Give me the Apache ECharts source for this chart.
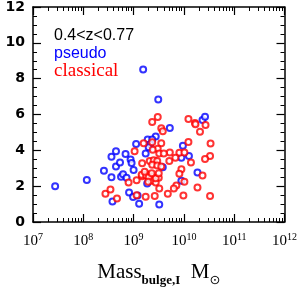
<!DOCTYPE html>
<html><head><meta charset="utf-8">
<script src="https://cdn.jsdelivr.net/npm/echarts@6/dist/echarts.min.js"></script>
<style>html,body{margin:0;padding:0;background:#fff}#c{width:300px;height:292px}</style>
</head><body><div id="c"></div>
<script>
// log10(Mass_bulge) and value for pseudo bulges (blue)
const pseudoLogMass = [7.44,8.07,8.41,8.56,8.56,8.65,8.65,8.73,8.75,8.79,8.84,8.86,8.94,8.96,9.00,8.91,8.58,8.99,9.08,9.11,
  9.05,9.24,9.28,9.27,9.19,9.49,9.72,10.37,10.42,9.44,9.37,9.33,9.30,9.98,10.10,9.95,9.58,10.27,9.95,9.51];
const pseudoY = [1.99,2.35,2.86,2.50,3.64,3.95,3.10,3.32,2.52,2.67,3.79,2.47,3.49,3.30,2.90,1.65,1.14,1.39,1.48,1.02,
  4.35,3.83,4.60,2.15,8.51,6.84,5.24,5.70,5.87,4.77,4.60,4.34,4.17,4.26,3.69,3.58,3.06,2.76,2.30,0.97];
// classical bulges (red)
const classicalLogMass = [8.44,8.54,8.67,8.90,9.02,9.06,9.06,9.17,9.17,9.24,9.26,9.48,9.37,9.55,9.58,10.09,10.22,10.23,10.43,10.32,
  10.09,10.53,9.72,9.91,10.01,9.83,10.14,10.52,10.42,9.95,9.91,10.37,10.01,9.85,9.80,9.99,10.27,10.52,9.55,9.20,
  9.37,9.48,9.51,9.60,9.32,9.40,9.47,9.71,9.37,9.47,9.55,9.37,9.50,9.36,9.44,9.51,9.68,9.42,9.16,9.25,
  9.30,9.44,9.29,9.22,9.36,9.50,9.38];
const classicalY = [1.58,1.82,1.31,2.21,3.95,2.33,1.50,3.28,2.55,1.41,2.67,5.86,5.58,5.23,5.06,5.75,5.53,5.46,5.41,5.04,
  4.46,4.38,3.88,3.87,3.88,3.58,3.32,3.69,3.52,2.95,2.69,2.60,2.25,2.04,1.87,1.48,1.92,1.45,4.39,4.39,
  4.45,4.09,3.83,3.83,3.41,3.44,3.41,3.40,3.20,3.15,3.10,2.55,2.47,2.30,2.21,1.87,1.58,1.45,2.64,2.60,
  2.50,2.44,2.25,2.81,2.72,2.72,4.03];
const xMajorExps = [7,8,9,10,11,12];
const yTicks = [0,2,4,6,8,10,12];
const annotation = '0.4<z<0.77';
const legendNames = ['pseudo','classical'];

const toPts = (lm, y) => lm.map((v,i)=>[Math.pow(10,v), y[i]]);
const minorVals = [];
for (let k=7;k<12;k++) for (let m=2;m<=9;m++) minorVals.push(m*Math.pow(10,k));

const majorLab = v => { const e = Math.round(Math.log10(v)); return '{b|10}{s|'+e+'}'; };
const labRich = { b:{fontFamily:'Liberation Serif',fontSize:15,color:'#000',verticalAlign:'bottom',lineHeight:17},
                  s:{fontFamily:'Liberation Serif',fontSize:10,color:'#000',verticalAlign:'top',lineHeight:17} };

const xBase = {type:'log',logBase:10,min:1e7,max:1e12,gridIndex:0,splitLine:{show:false}};
const chart = echarts.init(document.getElementById('c'),null,{renderer:'canvas'});
chart.setOption({
  animation:false,
  backgroundColor:'#fff',
  grid:{left:33,right:13,top:5,bottom:52,containLabel:false},
  xAxis:[
    Object.assign({},xBase,{position:'bottom',
      axisLine:{show:true,lineStyle:{color:'#000',width:1.5}},
      axisTick:{show:true,inside:true,length:8,lineStyle:{color:'#000',width:1.2},customValues:xMajorExps.map(e=>Math.pow(10,e))},
      axisLabel:{show:true,margin:10,formatter:majorLab,rich:labRich,customValues:xMajorExps.map(e=>Math.pow(10,e))},
      name:'{m|Mass}{sub|bulge,I}{m|  M}{sun|\u2299}',nameLocation:'middle',nameGap:35,
      nameTextStyle:{rich:{
        m:{fontFamily:'Liberation Serif',fontSize:21,color:'#000',lineHeight:30,verticalAlign:'middle'},
        sub:{fontFamily:'Liberation Serif',fontWeight:'bold',fontSize:13,color:'#000',lineHeight:13,verticalAlign:'bottom'},
        sun:{fontFamily:'DejaVu Sans',fontSize:13,color:'#000',lineHeight:13,verticalAlign:'bottom'}}}}),
    Object.assign({},xBase,{position:'bottom',axisLine:{show:false},axisLabel:{show:false},
      axisTick:{show:true,inside:true,length:4,lineStyle:{color:'#000',width:1},customValues:minorVals}}),
    Object.assign({},xBase,{position:'top',axisLine:{show:true,lineStyle:{color:'#000',width:1.5}},axisLabel:{show:false},
      axisTick:{show:true,inside:true,length:8,lineStyle:{color:'#000',width:1.2},customValues:xMajorExps.map(e=>Math.pow(10,e))}}),
    Object.assign({},xBase,{position:'top',axisLine:{show:false},axisLabel:{show:false},
      axisTick:{show:true,inside:true,length:4,lineStyle:{color:'#000',width:1},customValues:minorVals}})
  ],
  yAxis:[
    {type:'value',min:yTicks[0],max:yTicks[yTicks.length-1],interval:2,position:'left',splitLine:{show:false},
      axisLine:{show:true,lineStyle:{color:'#000',width:1.5}},
      axisTick:{show:true,inside:true,length:8,lineStyle:{color:'#000',width:1.2}},
      minorTick:{show:true,splitNumber:4,length:4,lineStyle:{color:'#000',width:1}},
      axisLabel:{margin:8,fontFamily:'DejaVu Sans',fontWeight:'bold',fontSize:14,color:'#000'}},
    {type:'value',min:yTicks[0],max:yTicks[yTicks.length-1],interval:2,position:'right',splitLine:{show:false},
      axisLine:{show:true,lineStyle:{color:'#000',width:1.5}},
      axisTick:{show:true,inside:true,length:8,lineStyle:{color:'#000',width:1.2}},
      minorTick:{show:true,splitNumber:4,length:4,lineStyle:{color:'#000',width:1}},
      axisLabel:{show:false}}
  ],
  series:[
    {name:legendNames[0],type:'scatter',xAxisIndex:0,yAxisIndex:0,data:toPts(pseudoLogMass,pseudoY),
      symbol:'emptyCircle',symbolSize:6,itemStyle:{color:'#0000ff',borderColor:'#0000ff',borderWidth:1.5}},
    {name:legendNames[1],type:'scatter',xAxisIndex:0,yAxisIndex:0,data:toPts(classicalLogMass,classicalY),
      symbol:'emptyCircle',symbolSize:6,itemStyle:{color:'#ff0000',borderColor:'#ff0000',borderWidth:1.5}}
  ],
  graphic:[
    {type:'text',left:54,top:28,style:{text:annotation,fontFamily:'Liberation Sans',fontSize:16,fill:'#000'}},
    {type:'text',left:54,top:46,style:{text:legendNames[0],fontFamily:'Liberation Sans',fontSize:16,fill:'#0000ff'}},
    {type:'text',left:54,top:62,style:{text:legendNames[1],fontFamily:'Liberation Serif',fontSize:19,fill:'#ff0000'}}
  ]
});
</script></body></html>
